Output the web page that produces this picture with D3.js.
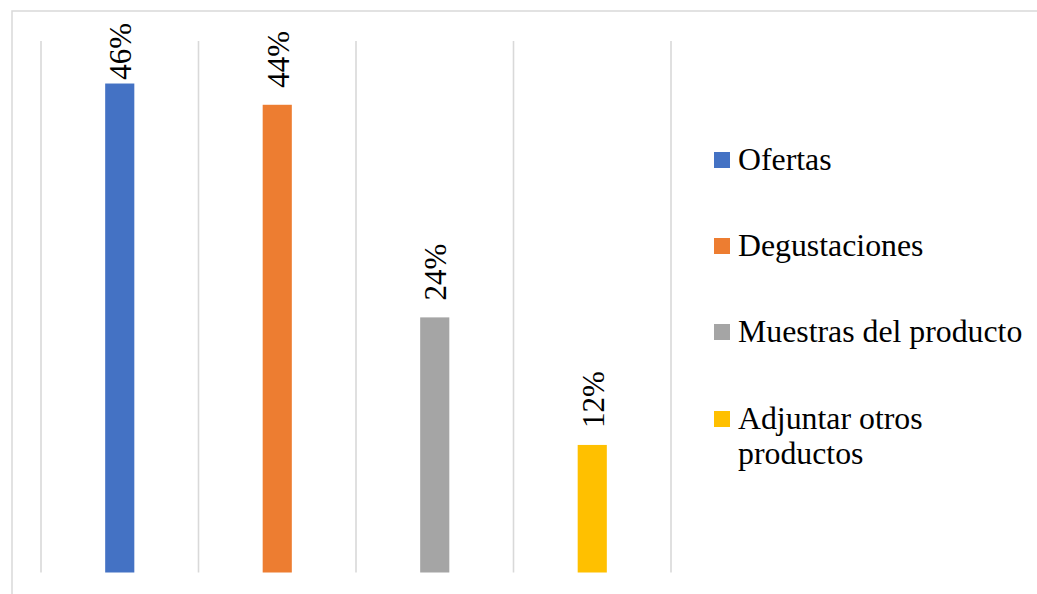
<!DOCTYPE html>
<html>
<head>
<meta charset="utf-8">
<script src="https://cdn.jsdelivr.net/npm/d3@7"></script>
<style>
  html, body { margin: 0; padding: 0; background: #fff; }
  svg { display: block; }
</style>
</head>
<body>
<svg id="chart" width="1037" height="594"></svg>
<script>
// Chart data
const categories = ["Ofertas", "Degustaciones", "Muestras del producto", "Adjuntar otros productos"];
const values = [46, 44, 24, 12];
const valueLabels = ["46%", "44%", "24%", "12%"];
const legendLines = [["Ofertas"], ["Degustaciones"], ["Muestras del producto"], ["Adjuntar otros", "productos"]];
const colors = ["#4472C4", "#ED7D31", "#A5A5A5", "#FFC000"];

const svg = d3.select("#chart");
const font = "'Liberation Serif', 'Times New Roman', serif";

// Outer chart frame
svg.append("rect")
  .attr("x", 12).attr("y", 11)
  .attr("width", 1100).attr("height", 700)
  .attr("fill", "none")
  .attr("stroke", "#d9d9d9")
  .attr("stroke-width", 1.5);

// Plot area
const plot = { left: 41, right: 671, top: 41, bottom: 572.5 };

const x = d3.scaleBand()
  .domain(categories)
  .range([plot.left, plot.right])
  .paddingInner(0.815)
  .paddingOuter(0.4075);

const y = d3.scaleLinear()
  .domain([0, 50])
  .range([plot.bottom, plot.top]);

const step = x.step();
const gap = step - x.bandwidth();

// Vertical gridlines at the category boundaries
const gridX = categories.map(c => x(c) - gap / 2).concat([x(categories[categories.length - 1]) + x.bandwidth() + gap / 2]);
svg.append("g")
  .selectAll("line")
  .data(gridX)
  .join("line")
  .attr("x1", d => d).attr("x2", d => d)
  .attr("y1", plot.top).attr("y2", plot.bottom)
  .attr("stroke", "#d9d9d9")
  .attr("stroke-width", 1.6);

// Bars
svg.append("g")
  .selectAll("rect")
  .data(categories)
  .join("rect")
  .attr("x", d => x(d))
  .attr("width", x.bandwidth())
  .attr("y", (d, i) => y(values[i]))
  .attr("height", (d, i) => y(0) - y(values[i]))
  .attr("fill", (d, i) => colors[i]);

// Rotated value labels above each bar
const labels = svg.append("g")
  .selectAll("text")
  .data(categories)
  .join("text")
  .attr("font-family", font)
  .attr("font-size", 31)
  .attr("fill", "#000")
  .attr("text-anchor", "start")
  .text((d, i) => valueLabels[i]);

labels.each(function (d, i) {
  const len = this.getComputedTextLength();
  const cx = x(d) + x.bandwidth() / 2 + 11.5;
  // keep the label inside the chart frame when the bar is tall
  const by = Math.max(y(values[i]) - 17, 23 + len);
  d3.select(this).attr("transform", `translate(${cx},${by}) rotate(-90)`);
});

// Legend
const legend = svg.append("g").attr("transform", "translate(714,0)");
const legendY = [152, 238, 324, 411];
legendLines.forEach((lines, i) => {
  const g = legend.append("g").attr("transform", `translate(0,${legendY[i]})`);
  g.append("rect")
    .attr("x", 0).attr("y", 0)
    .attr("width", 16).attr("height", 16)
    .attr("fill", colors[i]);
  const t = g.append("text")
    .attr("x", 24).attr("y", 18)
    .attr("font-family", font)
    .attr("font-size", 31.8)
    .attr("fill", "#000");
  lines.forEach((ln, j) => {
    t.append("tspan").attr("x", 24).attr("dy", j === 0 ? 0 : 35).text(ln);
  });
});
</script>
</body>
</html>
